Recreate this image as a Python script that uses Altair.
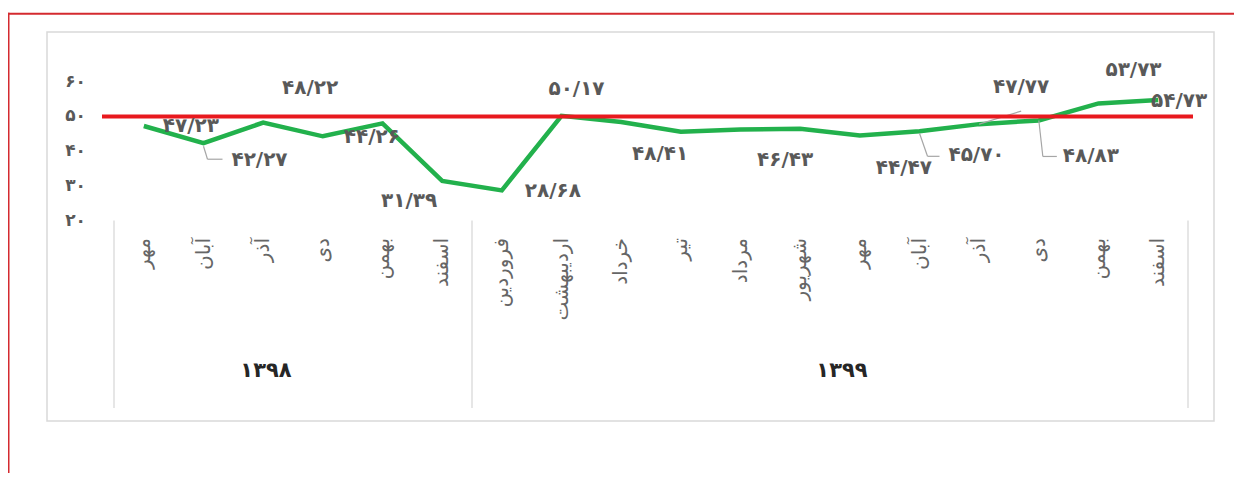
import altair as alt
import pandas as pd

# ---------------- data ----------------
months = ["مهر", "آبان", "آذر", "دی", "بهمن", "اسفند",
          "فروردین", "اردیبهشت", "خرداد", "تیر", "مرداد", "شهریور",
          "مهر", "آبان", "آذر", "دی", "بهمن", "اسفند"]
years = ["۱۳۹۸"] * 6 + ["۱۳۹۹"] * 12
values = [47.23, 42.27, 48.22, 44.26, 48.0, 31.39,
          28.68, 50.17, 48.41, 45.6, 46.2, 46.43,
          44.47, 45.70, 47.77, 48.83, 53.73, 54.73]
labeled = [True, True, True, True, False, True,
           True, True, True, False, False, True,
           True, True, True, True, True, True]
target = 50
y_ticks = [20, 30, 40, 50, 60]

FA = str.maketrans("0123456789.", "۰۱۲۳۴۵۶۷۸۹/")


def fa(s):
    return str(s).translate(FA)


df = pd.DataFrame({
    "i": list(range(len(months))),
    "v": values,
    "month": months,
    "year": years,
    "label": [fa(f"{v:.2f}") for v in values],
})
ticks_df = pd.DataFrame({"t": y_ticks, "lbl": [fa(t) for t in y_ticks]})
yr_df = df.groupby("year", sort=False)["i"].agg(["min", "max"]).reset_index()
yr_df["c"] = (yr_df["min"] + yr_df["max"]) / 2
bounds_df = pd.DataFrame({"b": [-0.5] + list(yr_df["max"] + 0.5)})
one = pd.DataFrame({"a": [0]})

# ---------------- layout / style ----------------
W, H = 1074, 138.8
FONT = "DejaVu Sans"
GREY = "#595959"

# per-label pixel offsets (layout only)
label_off = {0: (47, 0), 1: (56, 17), 2: (47, -35), 3: (49, 1), 5: (-33, 20),
             6: (51, 1), 7: (15, -27), 8: (39, 32), 11: (-15, 31), 12: (44, 32),
             13: (57, 24), 14: (42, -37), 15: (52, 36), 16: (35, -33), 17: (21, 1)}
# leader segments (x0, y0, x1, y1) relative to the point, pixels
leaders = {1: [(0, 3, 4, 16), (4, 16, 19, 16)],
           13: [(0, 2, 8, 25), (8, 25, 20, 25)],
           14: [(0, 0, 42, -13)],
           15: [(0, 0, 4, 36), (4, 36, 18, 36)]}

xs = alt.Scale(domain=[-0.5, len(months) - 0.5], nice=False, zero=False)
ys = alt.Scale(domain=[20, 60], nice=False, zero=False)

base = alt.Chart(df)

line = base.mark_line(color="#22b14c", strokeWidth=4.5).encode(
    x=alt.X("i:Q", scale=xs, axis=None),
    y=alt.Y("v:Q", scale=ys, axis=alt.Axis(values=y_ticks, grid=True, gridColor="#d9d9d9",
                                           gridWidth=1.2, labels=False, ticks=False,
                                           domain=False, title=None)),
)

red_line = alt.Chart(one).mark_rule(color="#e8191e", strokeWidth=4).encode(
    y=alt.datum(target), x=alt.value(-12), x2=alt.value(1079)
)

ytxt = alt.Chart(ticks_df).mark_text(align="right", baseline="middle", fontSize=17,
                                     fontWeight="bold", color=GREY, font=FONT).encode(
    y=alt.Y("t:Q", scale=ys, axis=None), x=alt.value(-28), text="lbl:N"
)

mtxt = base.mark_text(angle=270, align="right", baseline="middle", fontSize=20,
                      color="#666666", font=FONT).encode(
    x=alt.X("i:Q", scale=xs, axis=None), y=alt.value(156.3), text="month:N"
)

yr_dx = [-27, 12]
yr_layers = []
for k, row in yr_df.iterrows():
    yr_layers.append(
        alt.Chart(yr_df.iloc[[k]]).mark_text(align="center", baseline="middle", fontSize=21,
                                             fontWeight="bold", color="#262626", font=FONT,
                                             dx=yr_dx[k]).encode(
            x=alt.X("c:Q", scale=xs, axis=None), y=alt.value(289.3), text="year:N")
    )

seps = alt.Chart(bounds_df).mark_rule(color="#d9d9d9", strokeWidth=1.3).encode(
    x=alt.X("b:Q", scale=xs, axis=None), y=alt.value(H), y2=alt.value(326.3)
)

box = alt.Chart(one).mark_rect(fillOpacity=0, stroke="#d9d9d9", strokeWidth=1.5).encode(
    x=alt.value(-67), x2=alt.value(1100), y=alt.value(-49.7), y2=alt.value(339.3)
)
frame_top = alt.Chart(one).mark_rule(color="#d42a2f", strokeWidth=2).encode(
    x=alt.value(-106), x2=alt.value(1140), y=alt.value(-68)
)
frame_left = alt.Chart(one).mark_rule(color="#d42a2f", strokeWidth=2).encode(
    x=alt.value(-105.5), y=alt.value(-69), y2=alt.value(400)
)

lead_layers = []
for idx, segs in leaders.items():
    for (a, b, c, d) in segs:
        lead_layers.append(
            alt.Chart(df[df.i == idx]).mark_rule(color="#a6a6a6", strokeWidth=1.2,
                                                 xOffset=a, yOffset=b, x2Offset=c, y2Offset=d).encode(
                x=alt.X("i:Q", scale=xs, axis=None), x2="i:Q",
                y=alt.Y("v:Q", scale=ys, axis=None), y2="v:Q")
        )

lab_layers = []
for idx in range(len(months)):
    if not labeled[idx]:
        continue
    dx, dy = label_off[idx]
    lab_layers.append(
        alt.Chart(df[df.i == idx]).mark_text(align="center", baseline="middle", fontSize=20,
                                             fontWeight="bold", color=GREY, font=FONT,
                                             dx=dx, dy=dy).encode(
            x=alt.X("i:Q", scale=xs, axis=None),
            y=alt.Y("v:Q", scale=ys, axis=None), text="label:N")
    )

chart = alt.layer(
    box, frame_top, frame_left, seps, line, *lead_layers, red_line, ytxt, mtxt, *yr_layers, *lab_layers
).properties(
    width=W, height=H, autosize="none",
    padding={"left": 106, "top": 73.7, "right": 46, "bottom": 252.5},
    background="white",
).configure_view(stroke=None)

chart.save("out.html", embed_options={"renderer": "svg", "actions": False})
